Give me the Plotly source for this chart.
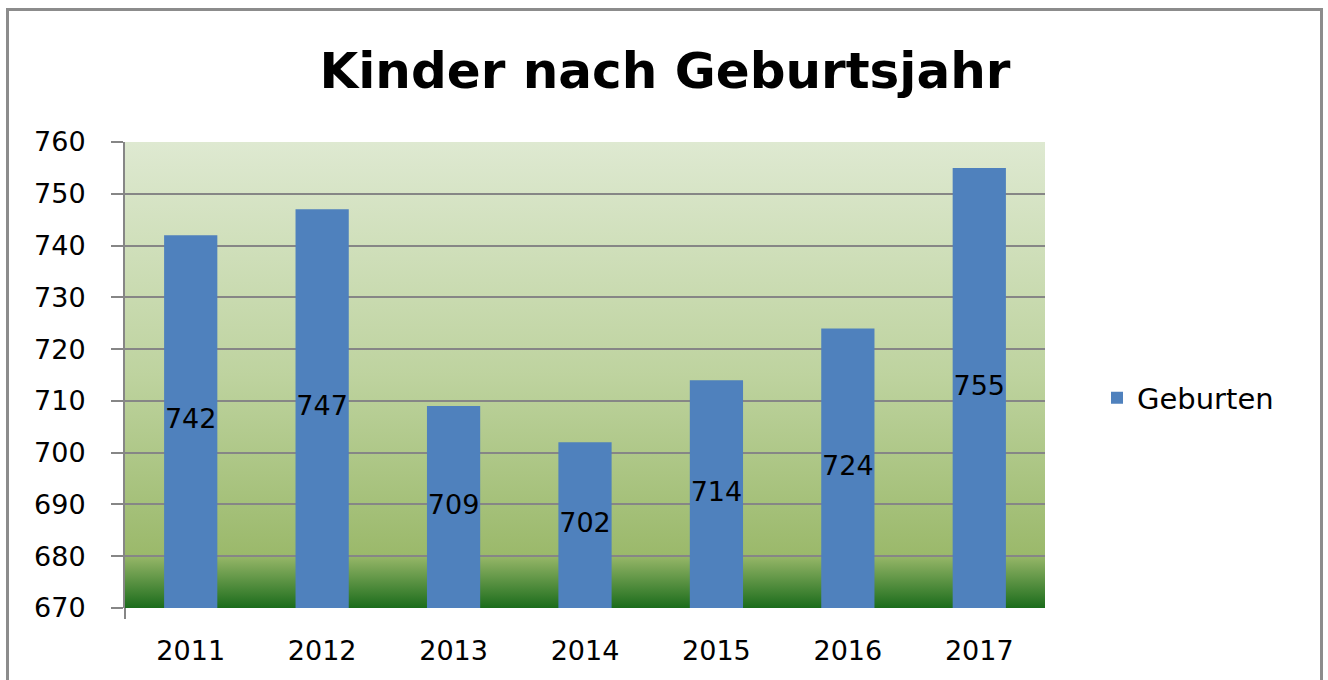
import base64
import plotly.graph_objects as go

# ---- data ----
years = ["2011", "2012", "2013", "2014", "2015", "2016", "2017"]
geburten = [742, 747, 709, 702, 714, 724, 755]
y_ticks = [670, 680, 690, 700, 710, 720, 730, 740, 750, 760]
y_min, y_max = 670, 760
series_name = "Geburten"
title_text = "Kinder nach Geburtsjahr"

# ---- layout geometry (pixels) ----
W, H = 1328, 680
L, R, T, B = 125, 283, 142, 72
PW, PH = W - L - R, H - T - B


def px_x(p):
    return (p - L) / PW


def px_y(p):
    return (H - B - p) / PH


# gradient background as inline SVG
svg = (
    '<svg xmlns="http://www.w3.org/2000/svg" width="100" height="100" '
    'viewBox="0 0 100 100" preserveAspectRatio="none">'
    '<defs><linearGradient id="g" x1="0" y1="0" x2="0" y2="1">'
    '<stop offset="0" stop-color="#dee9d1"/>'
    '<stop offset="0.5" stop-color="#bed39f"/>'
    '<stop offset="0.885" stop-color="#9bb96b"/>'
    '<stop offset="1" stop-color="#1b6c1b"/>'
    '</linearGradient></defs>'
    '<rect x="0" y="0" width="100" height="100" fill="url(#g)"/></svg>'
)
svg_uri = "data:image/svg+xml;base64," + base64.b64encode(svg.encode()).decode()

font_main = "DejaVu Sans"

fig = go.Figure()
fig.add_trace(
    go.Bar(
        x=years,
        y=geburten,
        name=series_name,
        width=0.405,
        marker=dict(color="#4f81bd", line=dict(width=0)),
        showlegend=True,
        hoverinfo="x+y",
    )
)
# data labels centred in each bar
fig.add_trace(
    go.Scatter(
        x=years,
        y=[(v + y_min) / 2 for v in geburten],
        mode="text",
        text=[str(v) for v in geburten],
        textposition="middle center",
        textfont=dict(family=font_main, size=27, color="#000000"),
        showlegend=False,
        hoverinfo="skip",
        cliponaxis=False,
    )
)

fig.update_layout(
    width=W,
    height=H,
    margin=dict(l=L, r=R, t=T, b=B, pad=0),
    paper_bgcolor="#ffffff",
    plot_bgcolor="rgba(0,0,0,0)",
    title=dict(
        text="<b>" + title_text + "</b>",
        x=665 / W,
        xref="container",
        xanchor="center",
        y=1 - 70 / H,
        yref="container",
        yanchor="middle",
        font=dict(family=font_main, size=50, color="#000000"),
    ),
    showlegend=True,
    legend=dict(
        x=px_x(1097),
        y=px_y(398),
        xanchor="left",
        yanchor="middle",
        font=dict(family=font_main, size=29, color="#000000"),
        bgcolor="rgba(0,0,0,0)",
    ),
    images=[
        dict(
            source=svg_uri,
            xref="paper",
            yref="paper",
            x=0,
            y=1,
            sizex=1,
            sizey=1,
            xanchor="left",
            yanchor="top",
            sizing="stretch",
            layer="below",
        )
    ],
    shapes=[
        dict(
            type="rect",
            xref="paper",
            yref="paper",
            x0=px_x(7.5),
            x1=px_x(1321.5),
            y0=px_y(700),
            y1=px_y(9.5),
            line=dict(color="#8c8c8c", width=3),
            fillcolor="rgba(0,0,0,0)",
            layer="above",
        ),
        dict(
            type="line",
            xref="paper",
            yref="paper",
            x0=0,
            x1=0,
            y0=px_y(608),
            y1=px_y(619),
            line=dict(color="#868686", width=2),
        ),
    ],
)

fig.update_xaxes(
    type="category",
    showgrid=False,
    showline=False,
    ticks="",
    ticklabelstandoff=24,
    tickfont=dict(family=font_main, size=27, color="#000000"),
    zeroline=False,
)
fig.update_yaxes(
    range=[y_min, y_max],
    tickvals=y_ticks,
    ticktext=[str(v) for v in y_ticks],
    showgrid=True,
    gridcolor="#868686",
    gridwidth=2,
    showline=True,
    linecolor="#868686",
    linewidth=2,
    ticks="outside",
    ticklen=12,
    tickwidth=2,
    tickcolor="#868686",
    ticklabelstandoff=20,
    tickfont=dict(family=font_main, size=27, color="#000000"),
    zeroline=False,
)

fig.write_html(
    "out.html",
    config={"displayModeBar": False},
    post_script="document.body.style.margin='0';document.body.style.overflow='hidden';",
)
